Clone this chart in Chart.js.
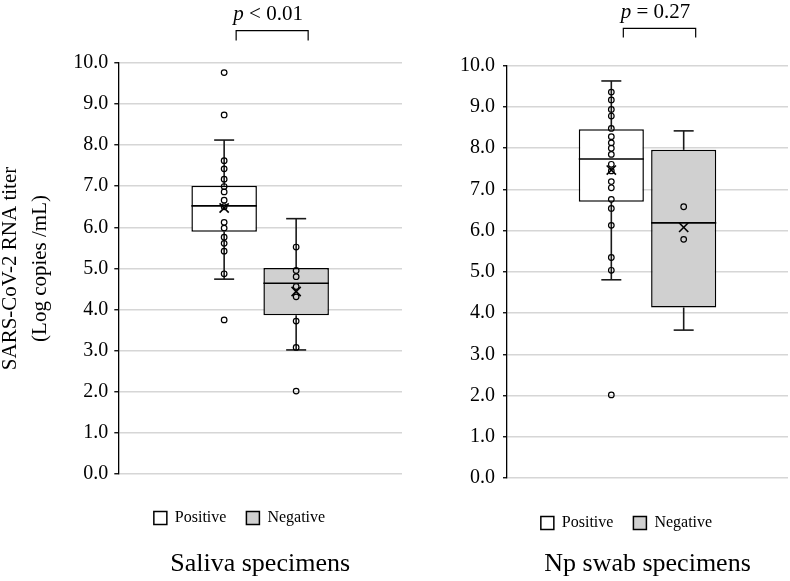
<!DOCTYPE html>
<html>
<head>
<meta charset="utf-8">
<script src="https://cdn.jsdelivr.net/npm/chart.js@4.4.1/dist/chart.umd.min.js"></script>
<style>
html,body{margin:0;padding:0;width:790px;height:581px;overflow:hidden;background:#fff}
canvas{position:absolute;top:0}
#c1{left:-5px}
#c2{left:453px}
</style>
</head>
<body>
<canvas id="c1" width="489" height="581"></canvas>
<canvas id="c2" width="347" height="581"></canvas>
<script>
// ---- data ----
const seriesNames = ['Positive', 'Negative'];
const statOrder = ['min', 'q1', 'median', 'q3', 'max', 'mean'];
const yTicks = [0, 1, 2, 3, 4, 5, 6, 7, 8, 9, 10];

const salivaPositive = [4.74, 5.89, 6.52, 7.01, 8.12, 6.47];
const salivaNegative = [3.02, 3.86, 4.64, 5.01, 6.21, 4.44];
const swabPositive   = [4.81, 6.70, 7.74, 8.46, 9.63, 7.47];
const swabNegative   = [3.59, 4.14, 6.19, 7.96, 8.42, 6.08];

const salivaPositivePoints = [9.76, 8.73, 7.62, 7.42, 7.17, 6.99, 6.86, 6.66, 6.50, 6.12, 5.98, 5.76, 5.61, 5.42, 4.87, 3.75];
const salivaNegativePoints = [5.52, 4.95, 4.80, 4.56, 4.31, 3.72, 3.08, 2.02];
const swabPositivePoints   = [9.36, 9.17, 8.94, 8.78, 8.48, 8.28, 8.13, 8.00, 7.85, 7.61, 7.45, 7.19, 7.04, 6.76, 6.54, 6.13, 5.35, 5.04, 2.02];
const swabNegativePoints   = [6.58, 5.79];

const panelTitles = ['Saliva specimens', 'Np swab specimens'];
const pLabels = [['p', ' < 0.01'], ['p', ' = 0.27']];
const yTitle = ['SARS-CoV-2 RNA titer', '(Log copies /mL)'];

const FONT = 'Liberation Serif';

// ---- plugin: whiskers, median, mean, points, significance bracket ----
const boxExtras = {
  id: 'boxExtras',
  afterDatasetsDraw(chart) {
    const o = chart.options.plugins.boxExtras;
    const ctx = chart.ctx;
    const ys = chart.scales.y;
    const Y = v => ys.getPixelForValue(v);
    const line = (x1, y1, x2, y2) => { ctx.beginPath(); ctx.moveTo(x1, y1); ctx.lineTo(x2, y2); ctx.stroke(); };
    ctx.save();
    o.series.forEach((s, i) => {
      const bar = chart.getDatasetMeta(i).data[0];
      const x = bar.x, half = bar.width / 2;
      const [mn, q1, md, q3, mx, mean] = s.stats;
      ctx.strokeStyle = '#1a1a1a';
      ctx.lineWidth = 1.6;
      line(x, Y(mn), x, Y(q1));
      line(x, Y(q3), x, Y(mx));
      line(x - 10, Y(mn), x + 10, Y(mn));
      line(x - 10, Y(mx), x + 10, Y(mx));
      ctx.strokeStyle = '#000';
      line(x - half, Y(md), x + half, Y(md));
      // points
      ctx.lineWidth = 1.2;
      s.points.forEach(v => {
        ctx.beginPath();
        ctx.arc(x, Y(v), 2.8, 0, Math.PI * 2);
        ctx.stroke();
      });
      // mean X
      ctx.lineWidth = 1.6;
      const my = Y(mean), d = 4.6;
      line(x - d, my - d, x + d, my + d);
      line(x - d, my + d, x + d, my - d);
    });
    // bracket
    const top = chart.chartArea.top;
    const xL = chart.getDatasetMeta(0).data[0].x + o.brOff;
    const xR = chart.getDatasetMeta(1).data[0].x + o.brOff;
    ctx.strokeStyle = '#000';
    ctx.lineWidth = 1.2;
    ctx.beginPath();
    ctx.moveTo(xL, top - o.brBot);
    ctx.lineTo(xL, top - o.brTop);
    ctx.lineTo(xR, top - o.brTop);
    ctx.lineTo(xR, top - o.brBot);
    ctx.stroke();
    // p label
    ctx.fillStyle = '#000';
    ctx.textBaseline = 'alphabetic';
    ctx.textAlign = 'left';
    const fi = 'italic 21px "' + FONT + '"', fr = '21px "' + FONT + '"';
    ctx.font = fi; const w1 = ctx.measureText(o.pText[0]).width;
    ctx.font = fr; const w2 = ctx.measureText(o.pText[1]).width;
    const cx = (xL + xR) / 2 + o.txtDx;
    const sx = cx - (w1 + w2) / 2;
    const by = top - o.txtBase;
    ctx.font = fi; ctx.fillText(o.pText[0], sx, by);
    ctx.font = fr; ctx.fillText(o.pText[1], sx + w1, by);
    ctx.restore();
  }
};

function makeChart(id, p) {
  return new Chart(document.getElementById(id), {
    type: 'bar',
    data: {
      labels: [p.title],
      datasets: [
        { label: seriesNames[0], data: [[p.pos[1], p.pos[3]]], backgroundColor: '#ffffff', borderColor: '#000', borderWidth: 1.5, borderSkipped: false, barPercentage: p.barPct, categoryPercentage: p.catPct },
        { label: seriesNames[1], data: [[p.neg[1], p.neg[3]]], backgroundColor: '#d0d0d0', borderColor: '#000', borderWidth: 1.5, borderSkipped: false, barPercentage: p.barPct, categoryPercentage: p.catPct }
      ]
    },
    options: {
      responsive: false,
      animation: false,
      devicePixelRatio: 1,
      layout: { padding: { top: p.top, left: 0, right: 0, bottom: 0 } },
      scales: {
        x: {
          display: true,
          grid: { display: false },
          border: { display: false },
          ticks: { display: false },
          afterFit: a => { a.height = p.xH; }
        },
        y: {
          min: 0, max: 10,
          afterBuildTicks: a => { a.ticks = yTicks.map(v => ({ value: v })); },
          ticks: {
            callback: v => Number(v).toFixed(1),
            color: '#000',
            font: { family: FONT, size: 20 },
            padding: p.tickPad
          },
          grid: { color: '#d6d6d6', lineWidth: 1.5, tickColor: '#000', tickLength: 4, tickWidth: 1.3 },
          border: { display: true, color: '#000', width: 1.3 },
          title: {
            display: !!p.yTitle,
            text: p.yTitle || '',
            color: '#000',
            font: { family: FONT, size: 21, lineHeight: 1.45 },
            padding: { top: 0, bottom: 0 }
          },
          afterFit: a => { a.width = p.yW; }
        },
        sp: {
          type: 'linear', position: 'right', display: true,
          grid: { display: false }, border: { display: false }, ticks: { display: false },
          afterFit: a => { a.width = p.spW; }
        }
      },
      plugins: {
        tooltip: { enabled: false },
        legend: {
          position: 'bottom', fullSize: true, align: 'center',
          labels: { boxWidth: 13, boxHeight: 13, padding: 20, color: '#000', font: { family: FONT, size: 16 } }
        },
        title: {
          display: true, position: 'bottom', fullSize: false,
          text: p.title, color: '#000',
          font: { family: FONT, size: 26, weight: 'normal', lineHeight: 1.2 },
          padding: { top: p.titlePadTop, bottom: 1.4 }
        },
        boxExtras: {
          series: [
            { stats: p.pos, points: p.posPts },
            { stats: p.neg, points: p.negPts }
          ],
          brOff: 12, brTop: p.brTop, brBot: p.brBot, txtBase: p.txtBase, txtDx: -4,
          pText: p.pText
        }
      }
    },
    plugins: [boxExtras]
  });
}

makeChart('c1', {
  title: panelTitles[0], yTitle: yTitle,
  pos: salivaPositive, neg: salivaNegative,
  posPts: salivaPositivePoints, negPts: salivaNegativePoints,
  pText: pLabels[0],
  top: 62.7, xH: 15.8, titlePadTop: 12.4,
  yW: 123.3, spW: 82, tickPad: 6,
  catPct: 0.5076, barPct: 0.91,
  brTop: 32, brBot: 22.2, txtBase: 43.2
});

makeChart('c2', {
  title: panelTitles[1], yTitle: null,
  pos: swabPositive, neg: swabNegative,
  posPts: swabPositivePoints, negPts: swabNegativePoints,
  pText: pLabels[1],
  top: 65.7, xH: 16.8, titlePadTop: 7.4,
  yW: 54, spW: 12, tickPad: 8,
  catPct: 0.515, barPct: 0.9,
  brTop: 37.4, brBot: 28.2, txtBase: 47.4
});
</script>
</body>
</html>
